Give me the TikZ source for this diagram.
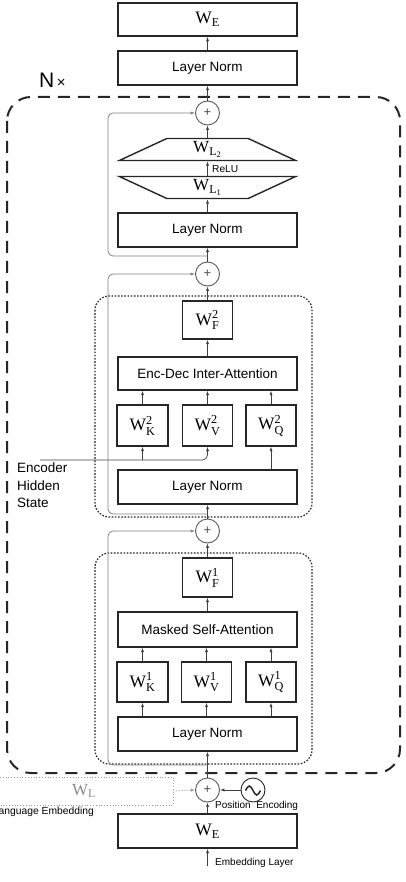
\documentclass[tikz,border=0pt]{standalone}
\usepackage{amsmath}
\usepackage{fontspec}
\setmainfont{Liberation Sans}
\newfontfamily\wf{Liberation Serif}
\usetikzlibrary{arrows.meta,shapes.geometric,calc}
\newcommand\Wsub[1]{$\text{\wf W}_{\text{\wf #1}}$}
\newcommand\Wss[2]{$\text{\wf W}^{\text{\wf #1}}_{\text{\wf #2}}$}
\newcommand\Wll[1]{$\text{\wf W}_{\text{\wf L}_{\text{\wf #1}}}$}
\tikzset{
  box/.style={draw=black!85, line width=1.4pt, inner sep=0pt, font=\fontsize{13.5}{16}\selectfont},
  wide/.style={box, minimum width=179pt, minimum height=34pt},
  wbox/.style={wide, font=\fontsize{17.5}{20}\selectfont},
  sq/.style={box, minimum width=50pt, minimum height=40pt, font=\fontsize{17.5}{20}\selectfont},
  trap/.style={trapezium, draw=black!85, line width=1.4pt, trapezium stretches=true,
    minimum width=177pt, minimum height=22pt, inner sep=0pt,
    trapezium left angle=43, trapezium right angle=43, font=\fontsize{17}{20}\selectfont},
  plus/.style={circle, draw=black!65, line width=0.9pt, minimum size=24pt, inner sep=0pt,
    font=\fontsize{13}{13}\selectfont, text=black!70},
  tip/.style={-{Latex[length=4.5pt,width=3.2pt]}},
  arr/.style={draw=black!75, line width=0.7pt, tip},
  res/.style={draw=black!50, line width=0.8pt, rounded corners=5pt, tip},
  lbl/.style={font=\fontsize{10}{12}\selectfont, inner sep=0pt},
  grp/.style={draw=black!85, line width=1.2pt, dash pattern=on 1.6pt off 1.6pt, rounded corners=14pt},
}
\begin{document}
\begin{tikzpicture}[x=1pt,y=-1pt]
\useasboundingbox (0,0) rectangle (405,882);
% outer dashed frame
\draw[black!85, line width=2pt, dash pattern=on 12pt off 8pt, rounded corners=24pt] (7,97) rectangle (400,773);
\node[font=\fontsize{21}{21}\selectfont, anchor=west, inner sep=0pt] (nx) at (39,80) {N{\fontsize{15}{15}\selectfont\,×}};
% inner dotted groups
\draw[grp] (95,296) rectangle (312,517);
\draw[grp] (95,553) rectangle (312,764);

% nodes
\node[wbox, minimum height=33pt] (WEt) at (207.5,19.5) {\Wsub{E}};
\node[wide] (LN1) at (207.5,68) {Layer Norm};
\node[plus] (P1) at (207.5,113) {+};
\node[trap] (WL2) at (207.5,149.5) {\Wll{2}};
\node[trap, shape border rotate=180] (WL1) at (207.5,187.5) {\Wll{1}};
\node[wide] (LN2) at (207.5,230) {Layer Norm};
\node[plus] (P2) at (207.5,274) {+};
\node[sq, minimum height=38pt] (WF2) at (207.5,320) {\Wss{2}{F}};
\node[wide, minimum height=33pt] (ED) at (207.5,373.5) {Enc-Dec Inter-Attention};
\node[sq, minimum width=51pt, minimum height=41pt] (WK2) at (142.5,425.5) {\Wss{2}{K}};
\node[sq, minimum height=41pt] (WV2) at (207.5,425.5) {\Wss{2}{V}};
\node[sq, minimum height=41pt] (WQ2) at (271,425.5) {\Wss{2}{Q}};
\node[wide] (LN3) at (207.5,487) {Layer Norm};
\node[plus] (P3) at (207.5,531) {+};
\node[sq, minimum height=39pt] (WF1) at (207.5,577.5) {\Wss{1}{F}};
\node[wide, minimum height=35pt] (MSA) at (207.5,629.5) {Masked Self-Attention};
\node[sq, minimum width=51pt] (WK1) at (142.5,682) {\Wss{1}{K}};
\node[sq] (WV1) at (206.5,682) {\Wss{1}{V}};
\node[sq] (WQ1) at (271,682) {\Wss{1}{Q}};
\node[wide] (LN4) at (207.5,734) {Layer Norm};
\node[plus] (P4) at (207.5,790) {+};
\node[plus, draw=black!85] (sine) at (253,790) {};
\draw[black!85, line width=1.5pt] ($(sine.center)+(-7.5,0.5)$) sin ++(3.75,-4.5) cos ++(3.75,4.5) sin ++(3.75,4.5) cos ++(3.75,-4.5);
\node[wbox] (WEb) at (207.5,831) {\Wsub{E}};
\node[draw=black!40, line width=1pt, dash pattern=on 1pt off 1.8pt, minimum width=178pt, minimum height=28pt,
      inner sep=0pt, text=black!45, font=\fontsize{17}{20}\selectfont] (WL) at (84,791) {\Wsub{L}};
\coordinate (inp) at (207.5,866);
\coordinate (enc) at (40,460);
\coordinate (j1) at (207.5,256);
\coordinate (j2) at (207.5,514);
\coordinate (j3) at (207.5,765);

% labels
\node[lbl, anchor=west, font=\fontsize{10.2}{12}\selectfont] (relu) at (212,169) {ReLU};
\node[lbl, anchor=west] (pos) at (215,806) {Position~~Encoding};
\node[lbl, anchor=west] (emb) at (215,863) {Embedding Layer};
\node[lbl, anchor=east, font=\fontsize{10.3}{12}\selectfont] (lang) at (94,812) {Language Embedding};
\node[anchor=north west, inner sep=0pt, align=left, font=\fontsize{13.5}{17.5}\selectfont] (ehs) at (17,463) {Encoder\\Hidden\\State};

% main column arrows
\draw[arr] (LN1.north) -- (WEt.south);
\draw[arr] (P1.north) -- (LN1.south);
\draw[arr] (WL2.north) -- (P1.south);
\draw[arr] (WL1.north) -- (WL2.south);
\draw[arr] (LN2.north) -- (WL1.south);
\draw[arr] (P2.north) -- (LN2.south);
\draw[arr] (WF2.north) -- (P2.south);
\draw[arr] (ED.north) -- (WF2.south);
\draw[arr] (WK2.north) -- (WK2.north |- ED.south);
\draw[arr] (WV2.north) -- (ED.south);
\draw[arr] (WQ2.north) -- (WQ2.north |- ED.south);
\draw[arr] (enc -| WK2.south) -- (WK2.south);
\draw[arr, rounded corners=5pt] (enc) -| (WV2.south);
\draw[arr] (LN3.north -| WQ2.south) -- (WQ2.south);
\draw[arr] (P3.north) -- (LN3.south);
\draw[arr] (WF1.north) -- (P3.south);
\draw[arr] (MSA.north) -- (WF1.south);
\draw[arr] (WK1.north) -- (WK1.north |- MSA.south);
\draw[arr] (WV1.north) -- (WV1.north |- MSA.south);
\draw[arr] (WQ1.north) -- (WQ1.north |- MSA.south);
\draw[arr] (LN4.north -| WK1.south) -- (WK1.south);
\draw[arr] (LN4.north -| WV1.south) -- (WV1.south);
\draw[arr] (LN4.north -| WQ1.south) -- (WQ1.south);
\draw[arr] (P4.north) -- (LN4.south);
\draw[arr] (WEb.north) -- (P4.south);
\draw[arr] (sine.west) -- (P4.east);
\draw[arr] (inp) -- (WEb.south);
\draw[draw=black!40, line width=0.8pt, dash pattern=on 1pt off 1.8pt, tip] (WL.east) -- (P4.west);

% residual connections
\draw[res] (j1) -- (108,256) -- (108,113) -- (P1.west);
\draw[res] (j2) -- (108,514) -- (108,274) -- (P2.west);
\draw[res] (j3) -- (108,765) -- (108,531) -- (P3.west);
\end{tikzpicture}
\end{document}
